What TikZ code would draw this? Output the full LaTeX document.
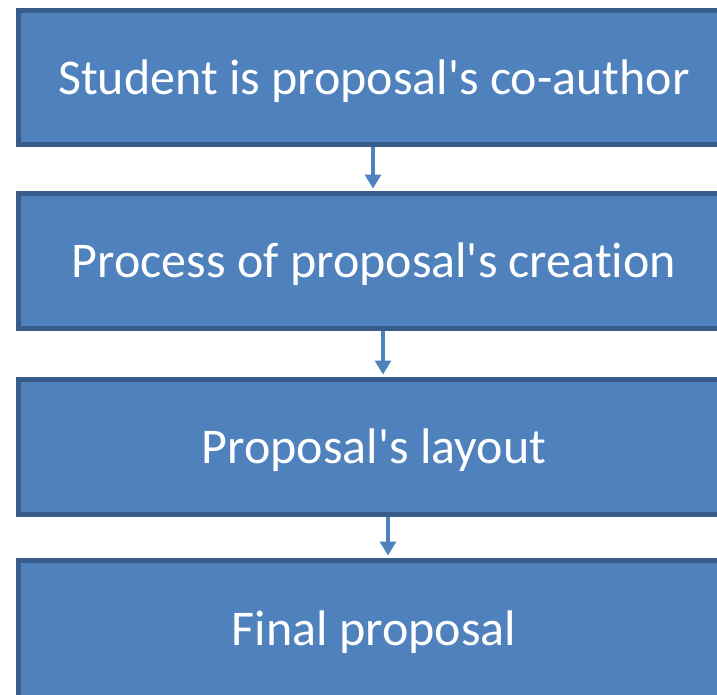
\documentclass[tikz,border=0pt]{standalone}
\usepackage{fontspec}
\setmainfont{Carlito}[Ligatures={TeXOff,NoCommon}]
\usetikzlibrary{arrows.meta}
\definecolor{boxfill}{HTML}{4F81BD}
\definecolor{boxline}{HTML}{385D8A}
\tikzset{
  stagebox/.style={rectangle, draw=boxline, fill=boxfill, line width=5pt,
    minimum width=711pt, inner sep=0pt, text=white,
    text height=33pt, text depth=0pt,
    font=\fontsize{50}{56}\selectfont},
  flowarrow/.style={draw=boxfill, line width=3.2pt,
    -{Triangle[width=16pt,length=14pt]}, shorten >=2.5pt}
}
\begin{document}
\begin{tikzpicture}[x=1pt,y=-1pt]
\useasboundingbox (0,0) rectangle (717,694);
\clip (0,0) rectangle (717,694);
\node[stagebox, minimum height=134pt] (b1) at (374,77.5) {Student is proposal's co-author};
\node[stagebox, minimum height=135pt] (b2) at (374,261) {Process of proposal's creation};
\node[stagebox, minimum height=135pt] (b3) at (374,447) {Proposal's layout};
\node[stagebox, minimum height=137pt] (b4) at (374,629) {Final proposal};
\draw[flowarrow] ([xshift=-1pt]b1.south) -- ([xshift=-1pt]b2.north);
\draw[flowarrow] ([xshift=9pt]b2.south) -- ([xshift=9pt]b3.north);
\draw[flowarrow] ([xshift=14pt]b3.south) -- ([xshift=14pt]b4.north);
\end{tikzpicture}
\end{document}
